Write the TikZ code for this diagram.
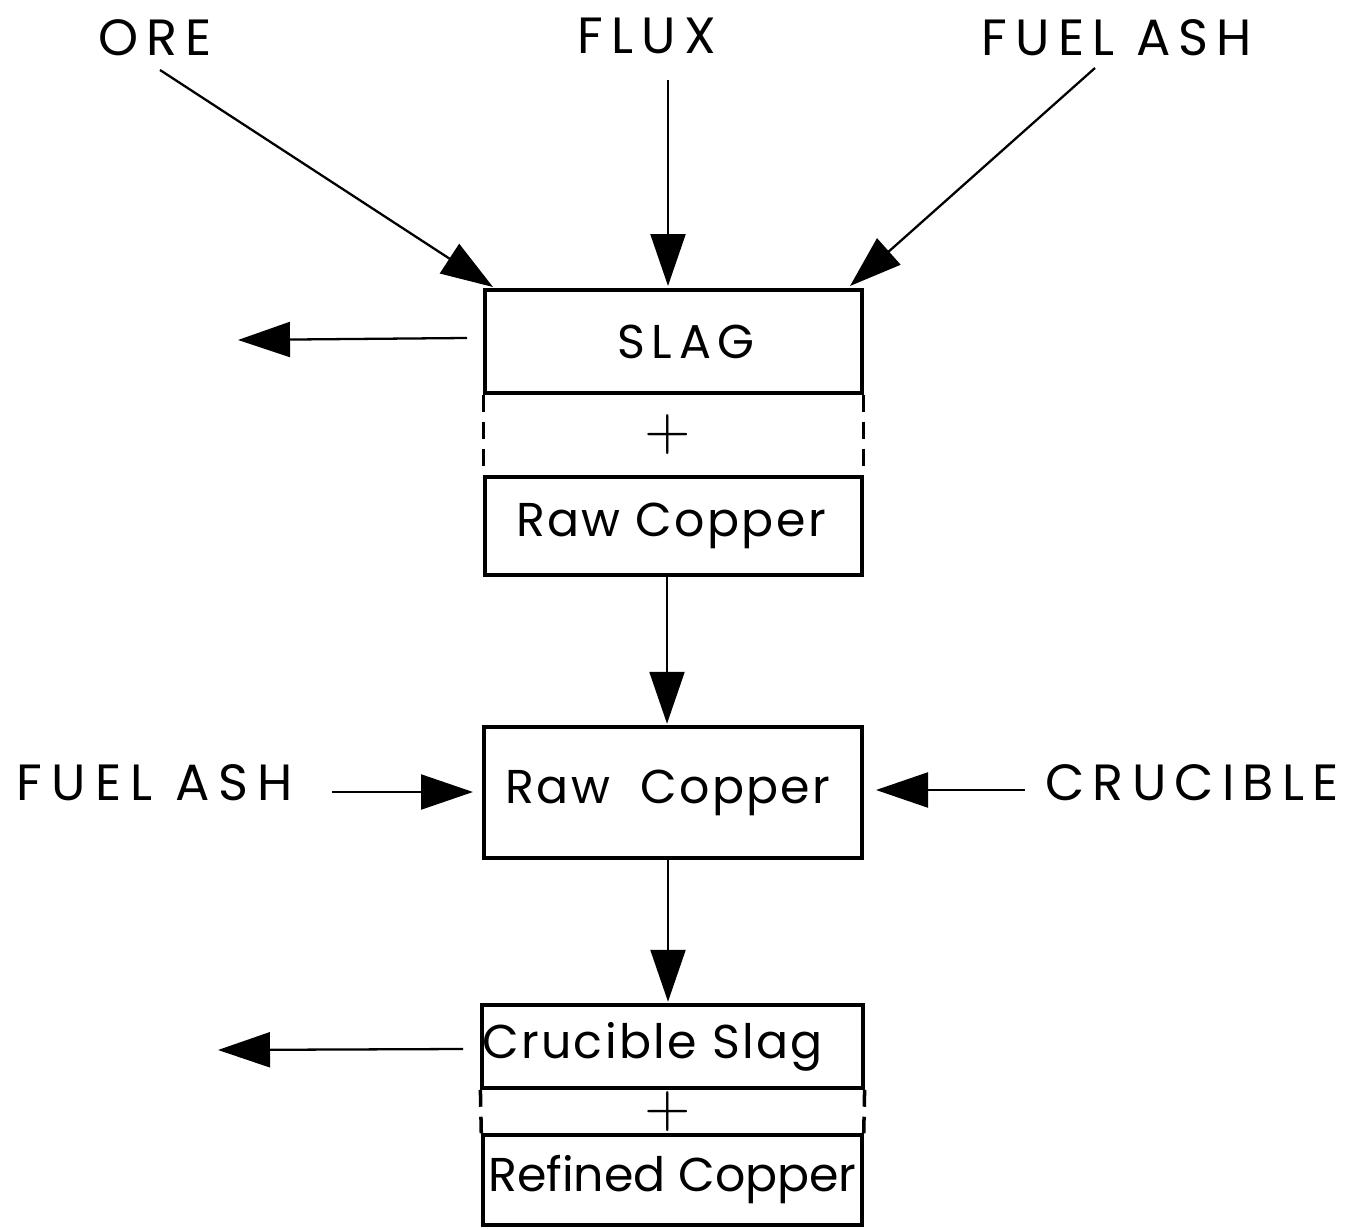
\documentclass[tikz,border=0pt]{standalone}
\usepackage{fontspec}
\usepackage{graphicx}
\setmainfont{Poppins}
\usetikzlibrary{arrows.meta}
\tikzset{
  box/.style={draw, line width=2pt, inner sep=0pt, font=\fontsize{27}{30}\selectfont\addfontfeatures{LetterSpace=5}},
  lbl/.style={inner sep=0pt, font=\fontsize{29}{30}\selectfont\addfontfeatures{LetterSpace=16}},
  plus/.style={inner sep=0pt, font=\normalsize},
  flow/.style={line width=1.3pt, -{Triangle[length=1.04cm,width=0.7cm]}},
  sep/.style={line width=2pt, dash pattern=on 0.34cm off 0.2cm},
}
\begin{document}
\begin{tikzpicture}[x=0.02cm,y=-0.02cm]
\useasboundingbox (0,0) rectangle (1352,1229);
% labels
\node[lbl] (ore) at (155,38) {ORE};
\node[lbl] (flux) at (647,36) {FLUX};
\node[lbl] (fueltop) at (1117,38) {FUEL ASH};
\node[lbl, font=\fontsize{29}{30}\selectfont\addfontfeatures{LetterSpace=18}] (fuelleft) at (155,783) {FUEL ASH};
\node[lbl] (crucible) at (1192,783) {CRUCIBLE};
% boxes
\node[box, minimum width=7.54cm, minimum height=2.06cm] (slag) at (673.5,341.5) {\hspace*{0.5cm}{\addfontfeatures{LetterSpace=14}SLAG}};
\node[box, minimum width=7.54cm, minimum height=1.96cm] (raw1) at (673.5,526) {Raw Copper\kern0.1cm};
\node[box, minimum width=7.56cm, minimum height=2.62cm] (raw2) at (673,792.5) {Raw\ \ Copper\kern0.2cm};
\node[box, minimum width=7.58cm, minimum height=1.66cm] (cslag) at (672.5,1046.5) {Crucible Slag\kern0.8cm};
\node[box, minimum width=7.58cm, minimum height=1.80cm, font=\fontsize{27}{30}\selectfont] (refined) at (672.5,1180) {Refined Copper};
% plus signs
\node[plus] (plus1) at (668,435) {\scalebox{3.4}{$+$}};
\node[plus] (plus2) at (668,1112) {\scalebox{3.4}{$+$}};
% dashed separators
\draw[sep] (slag.south west) -- (raw1.north west);
\draw[sep] (slag.south east) -- (raw1.north east);
\draw[sep] (cslag.south west) -- (refined.north west);
\draw[sep] (cslag.south east) -- (refined.north east);
% coordinates
\coordinate (oreS) at (160,70);
\coordinate (oreT) at (493,287);
\coordinate (fluxS) at (668,80);
\coordinate (fluxT) at (668,286);
\coordinate (fuelS) at (1095,68);
\coordinate (fuelT) at (850,286);
\coordinate (slagS) at (467,338);
\coordinate (slagT) at (238,340);
\coordinate (fuelLS) at (332,792);
\coordinate (fuelLT) at (473,792);
\coordinate (crucS) at (1025,790);
\coordinate (crucT) at (876,790);
\coordinate (cslagS) at (463,1049);
\coordinate (cslagT) at (218,1050);
% connectors
\draw[flow] (oreS) -- (oreT);
\draw[flow] (fluxS) -- (fluxT);
\draw[flow] (fuelS) -- (fuelT);
\draw[flow] (slagS) -- (slagT);
\draw[flow] (raw1.south -| fluxS) ++(-1,0) -- ++(0,147);
\draw[flow] (fuelLS) -- (fuelLT);
\draw[flow] (crucS) -- (crucT);
\draw[flow] (raw2.south -| fluxS) -- ++(0,142);
\draw[flow] (cslagS) -- (cslagT);
\end{tikzpicture}
\end{document}
